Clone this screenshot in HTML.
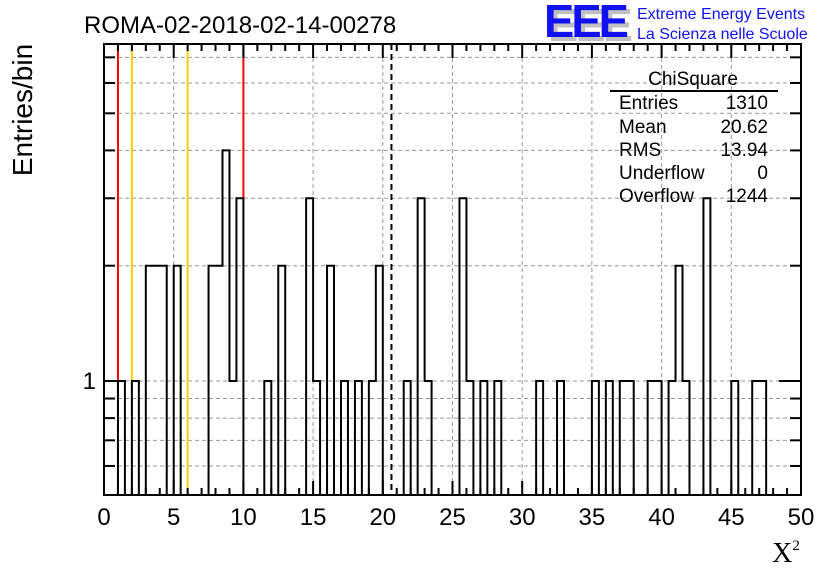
<!DOCTYPE html>
<html><head><meta charset="utf-8"><style>
html,body{margin:0;padding:0;background:#fff;}
svg{display:block;font-family:"Liberation Sans",sans-serif;}
</style></head><body>
<svg id="c" width="836" height="572" viewBox="0 0 836 572">
<rect width="836" height="572" fill="#fff"/>
<text x="84" y="33" font-size="24">ROMA-02-2018-02-14-00278</text>
<g>
<text x="548" y="41" font-size="46" font-weight="bold" fill="#c0c0c0" letter-spacing="-3" textLength="82" lengthAdjust="spacingAndGlyphs">EEE</text>
<text x="544" y="37" font-size="46" font-weight="bold" fill="#1010f0" letter-spacing="-3" textLength="82" lengthAdjust="spacingAndGlyphs">EEE</text>
<text x="637" y="19" font-size="16" fill="#1010f0">Extreme Energy Events</text>
<text x="637" y="39" font-size="16" fill="#1010f0">La Scienza nelle Scuole</text>
</g>
<text transform="translate(32,110) rotate(-90)" text-anchor="middle" font-size="28">Entries/bin</text>
<text x="786" y="562" text-anchor="middle" font-size="28" font-family="Liberation Serif, serif">X<tspan font-size="15" dy="-12">2</tspan></text>
<g id="grid"></g><g id="cuts"></g><g id="marks"></g><g id="axes"></g>
<g font-size="19">
<text x="693" y="85" text-anchor="middle">ChiSquare</text>
<line x1="610" y1="91" x2="778" y2="91" stroke="#000" stroke-width="2"/>
<text x="619" y="109">Entries</text><text x="768" y="109" text-anchor="end">1310</text>
<text x="619" y="133">Mean</text><text x="768" y="133" text-anchor="end">20.62</text>
<text x="619" y="156">RMS</text><text x="768" y="156" text-anchor="end">13.94</text>
<text x="619" y="179">Underflow</text><text x="768" y="179" text-anchor="end">0</text>
<text x="619" y="202">Overflow</text><text x="768" y="202" text-anchor="end">1244</text>
</g>
</svg>
<script>
// histogram: bin lower edges (width 0.5) with nonzero counts
const binStarts=[1,2,3,3.5,4,5,7.5,8,8.5,9,9.5,11.5,12.5,14.5,15,16,17,18,19,19.5,21.5,22.5,23,25.5,26,27,28,31,32.5,35,36,37,37.5,39,39.5,40.5,41,41.5,43,45,46.5,47];
const binCounts=[1,1,2,2,2,2,2,2,4,1,3,1,2,3,1,2,1,1,1,2,1,3,1,3,1,1,1,1,1,1,1,1,1,1,1,1,2,1,3,1,1,1];
const xTicks=[0,5,10,15,20,25,30,35,40,45,50];
const yMinor=[0.6,0.7,0.8,0.9,1,2,3,4,5,6,7];
const meanValue=20.62;
const redLines=[1,10];
const yellowLines=[2,6];
const binWidth=0.5;

const L=104,R=801,T=44,B=495;
const X=v=>L+(v/50)*(R-L);
const Y=v=>v<=0?B:381-383*Math.log10(v);
const NS='http://www.w3.org/2000/svg';
function mk(p,tag,at){const e=document.createElementNS(NS,tag);for(const k in at)e.setAttribute(k,at[k]);p.appendChild(e);return e;}
const grid=document.getElementById('grid'),cuts=document.getElementById('cuts'),marks=document.getElementById('marks'),axes=document.getElementById('axes');

xTicks.forEach(t=>{if(t>0&&t<50){const g=mk(grid,'line',{x1:X(t),x2:X(t),y1:T,y2:B,stroke:'#999','stroke-dasharray':'4,3','stroke-width':1});

}});
yMinor.forEach(v=>{const g=mk(grid,'line',{x1:L,x2:R,y1:Y(v),y2:Y(v),stroke:'#999','stroke-dasharray':'4,3','stroke-width':1});

});

function countAt(s){const i=binStarts.findIndex(b=>Math.abs(b-s)<1e-6);return i<0?0:binCounts[i];}
let d='M'+X(0)+','+B;let prev=B;
for(let s=0;s<50-1e-9;s+=binWidth){const y=Y(countAt(s));d+=' L'+X(s)+','+prev+' L'+X(s)+','+y+' L'+X(s+binWidth)+','+y;prev=y;}
d+=' L'+X(50)+','+B;
const h=mk(marks,'path',{d:d,fill:'none',stroke:'#000','stroke-width':2});



function vline(v,color,name){const bin=Math.round(Math.floor(v/binWidth+1e-9)*binWidth*2)/2;const top=Math.min(Y(countAt(bin)),Y(countAt(bin-binWidth)));
const e=mk(cuts,'line',{x1:X(v),x2:X(v),y1:T,y2:Math.min(top,B),stroke:color,'stroke-width':2});

}
redLines.forEach(v=>vline(v,'#ff0000','red-cut-line'));
yellowLines.forEach(v=>vline(v,'#ffcc00','yellow-cut-line'));
const m=mk(marks,'line',{x1:X(meanValue),x2:X(meanValue),y1:T,y2:B,stroke:'#000','stroke-width':2,'stroke-dasharray':'6,4'});



const fr=mk(axes,'rect',{x:L,y:T,width:R-L,height:B-T,fill:'none',stroke:'#000','stroke-width':2});


for(let t=0;t<=50;t++){const len=t%5===0?14:7;
const a=mk(axes,'line',{x1:X(t),x2:X(t),y1:B,y2:B-len,stroke:'#000','stroke-width':2});


const b=mk(axes,'line',{x1:X(t),x2:X(t),y1:T,y2:T+len,stroke:'#000','stroke-width':2});

}
xTicks.forEach(t=>{const tx=mk(axes,'text',{x:X(t),y:525,'text-anchor':'middle','font-size':24});tx.textContent=t;

});
yMinor.forEach(v=>{const len=v===1?22:11;
const a=mk(axes,'line',{x1:L,x2:L+len,y1:Y(v),y2:Y(v),stroke:'#000','stroke-width':2});


const b=mk(axes,'line',{x1:R,x2:R-len,y1:Y(v),y2:Y(v),stroke:'#000','stroke-width':2});

});
const yl=mk(axes,'text',{x:96,y:Y(1)+8,'text-anchor':'end','font-size':24});yl.textContent='1';


</script>
</body></html>
